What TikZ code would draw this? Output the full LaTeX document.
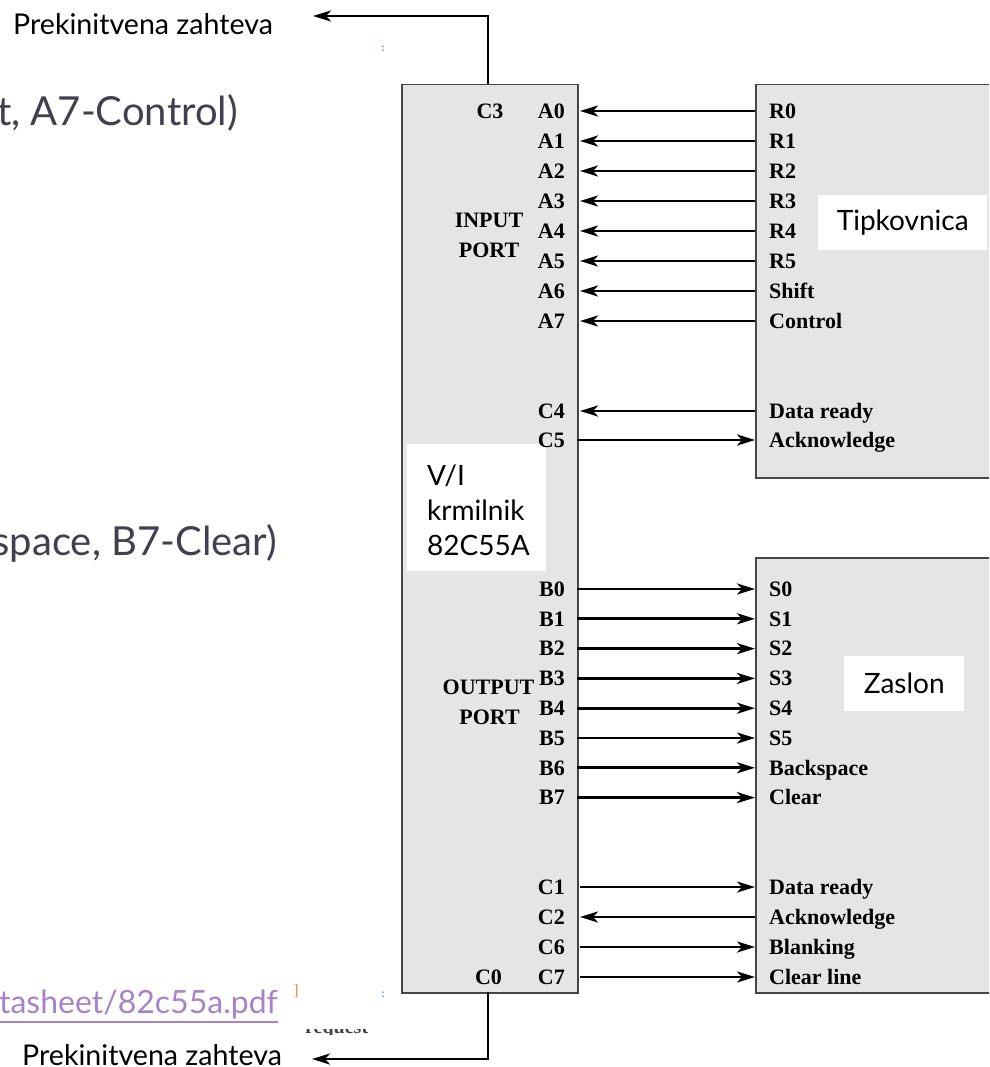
\documentclass[tikz,border=0pt]{standalone}
\usepackage{fontspec}
\setmainfont{Liberation Serif}
\newfontfamily\slidefont{Lato}
\usetikzlibrary{arrows.meta}
\definecolor{boxgray}{RGB}{229,229,229}
\definecolor{edgegray}{RGB}{70,70,70}
\definecolor{slidetext}{RGB}{64,64,78}
\definecolor{linkpurple}{RGB}{168,130,200}
\definecolor{markorange}{RGB}{220,140,60}
\definecolor{markblue}{RGB}{120,170,220}
\begin{document}
\begin{tikzpicture}[x=1pt,y=-1pt,
  pin/.style={font=\fontsize{22}{22}\selectfont\bfseries, inner sep=0pt},
  arr/.style={line width=2.8pt, -{Stealth[length=18pt,width=11pt,inset=5pt]}},
  chip/.style={draw=edgegray, line width=1.5pt, fill=boxgray, inner sep=0pt},
  whitebox/.style={fill=white, inner sep=0pt},
  slide/.style={font=\slidefont\fontsize{28}{28}\selectfont, inner sep=0pt},
  irqtext/.style={font=\slidefont\fontsize{28.6}{28.6}\selectfont, inner sep=0pt},
  bigslide/.style={font=\slidefont\fontsize{40}{40}\selectfont, text=slidetext, inner sep=0pt}]
\useasboundingbox (0,0) rectangle (989,1067);
\clip (0,0) rectangle (989,1067);

% slide background texts
\node[bigslide, anchor=base east] (slide1) at (238,126) {ft, A7-Control)};
\node[bigslide, anchor=base east] (slide2) at (277,555) {kspace, B7-Clear)};
\node[font=\slidefont\fontsize{32}{32}\selectfont, text=linkpurple, inner sep=0pt, anchor=base east] (link) at (278,1013) {atasheet/82c55a.pdf};
\draw[linkpurple, line width=1.4pt] (link.south west |- 0,1022) -- (link.south east |- 0,1022);
\node[text=markorange, font=\fontsize{16}{16}\selectfont, inner sep=0pt] (bracket) at (296,991) {]};
\node[text=markblue, font=\fontsize{12}{12}\selectfont\bfseries, inner sep=0pt] (tick1) at (383,49) {:};
\node[text=markblue, font=\fontsize{12}{12}\selectfont\bfseries, inner sep=0pt] (tick2) at (383,995) {:};
\begin{scope}
  \clip (300,1029) rectangle (380,1034);
  \node[font=\fontsize{20}{20}\selectfont\bfseries, text=slidetext, inner sep=0pt, anchor=base west] (req) at (305,1033) {request};
\end{scope}

% boxes
\node[chip, anchor=north west, minimum width=176pt, minimum height=908pt] (ctrl) at (401,84) {};
\node[chip, anchor=north west, minimum width=260pt, minimum height=393pt] (kbd) at (755,84) {};
\node[chip, anchor=north west, minimum width=260pt, minimum height=435pt] (disp) at (755,557) {};

% white name boxes
\node[whitebox, slide, anchor=north west, minimum width=169pt, minimum height=55pt] (kbdname) at (818,195) {Tipkovnica};
\node[whitebox, slide, anchor=north west, minimum width=120pt, minimum height=55pt] (dispname) at (844,656) {Zaslon};
\node[whitebox, anchor=north west, minimum width=139pt, minimum height=127pt] (vibox) at (407,444) {};
\node[slide, anchor=base west] (vi1) at (427,485) {V/I};
\node[slide, anchor=base west] (vi2) at (427,520) {krmilnik};
\node[slide, anchor=base west] (vi3) at (427,555) {82C55A};

% port A
\foreach \i/\r in {0/R0,1/R1,2/R2,3/R3,4/R4,5/R5,6/Shift,7/Control}{
  \pgfmathsetmacro\yy{111+30*\i}
  \coordinate (ka\i) at (755,\yy);
  \coordinate (pa\i) at (580,\yy);
  \node[pin, anchor=base east] (la\i) at (565,\yy+7.3) {A\i};
  \node[pin, anchor=base west] (lr\i) at (769,\yy+7.3) {\r};
  \draw[arr] (ka\i) -- (pa\i);
}
\node[pin, anchor=base] (lc3) at (490,118.3) {C3};
\node[pin, anchor=base] (inp1) at (489,227.3) {INPUT};
\node[pin, anchor=base] (inp2) at (489,257.3) {PORT};

% C4 / C5
\coordinate (kc4) at (755,411); \coordinate (pc4) at (580,411);
\coordinate (kc5) at (755,440); \coordinate (pc5) at (577,440);
\node[pin, anchor=base east] (lc4) at (565,418.3) {C4};
\node[pin, anchor=base east] (lc5) at (565,447.3) {C5};
\node[pin, anchor=base west] (ldr1) at (769,418.3) {Data ready};
\node[pin, anchor=base west] (lack1) at (769,447.3) {Acknowledge};
\draw[arr] (kc4) -- (pc4);
\draw[arr] (pc5) -- (kc5);

% port B
\foreach \i/\s in {0/S0,1/S1,2/S2,3/S3,4/S4,5/S5,6/Backspace,7/Clear}{
  \pgfmathsetmacro\yy{589+29.8*\i}
  \coordinate (pb\i) at (577,\yy);
  \coordinate (sb\i) at (755,\yy);
  \node[pin, anchor=base east] (lb\i) at (565,\yy+7.3) {B\i};
  \node[pin, anchor=base west] (ls\i) at (769,\yy+7.3) {\s};
  \draw[arr] (pb\i) -- (sb\i);
}
\node[pin, anchor=base] (outp1) at (488.5,694.3) {OUTPUT};
\node[pin, anchor=base] (outp2) at (489.5,724.3) {PORT};

% port C lower
\foreach \n/\y/\t in {C1/887/Data ready,C2/917/Acknowledge,C6/947/Blanking,C7/977/Clear line}{
  \coordinate (p\n) at (580,\y);
  \coordinate (d\n) at (755,\y);
  \node[pin, anchor=base east] (l\n) at (565,\y+7.3) {\n};
  \node[pin, anchor=base west] (t\n) at (769,\y+7.3) {\t};
}
\draw[arr] (pC1) -- (dC1);
\draw[arr] (dC2) -- (pC2);
\draw[arr] (pC6) -- (dC6);
\draw[arr] (pC7) -- (dC7);
\node[pin, anchor=base] (lc0) at (488.5,984.3) {C0};

% interrupt request lines
\node[irqtext, anchor=base west] (irqtop) at (13,35) {Prekinitvena zahteva};
\node[irqtext, anchor=base west] (irqbot) at (22,1065) {Prekinitvena zahteva};
\coordinate (c3out) at (488,84);
\coordinate (irq1) at (313,16);
\coordinate (c0out) at (488,992);
\coordinate (irq2) at (312,1059);
\draw[arr] (c3out) |- (irq1);
\draw[arr] (c0out) |- (irq2);
\end{tikzpicture}
\end{document}
